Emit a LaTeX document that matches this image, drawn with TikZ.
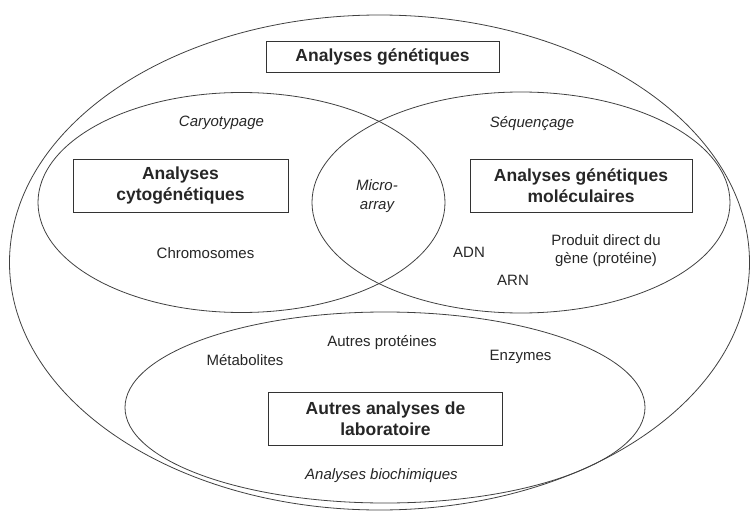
\documentclass[tikz,border=0pt]{standalone}
\usepackage{fontspec}
\setmainfont{Liberation Sans}
\usepackage{xcolor}
\usepackage{tikz}

\begin{document}
\begin{tikzpicture}[x=1pt,y=-1pt,line width=0.8pt,
  every node/.style={text=black!85,font=\fontsize{15}{18}\selectfont},
  areabox/.style={draw=black!80,align=center,inner sep=0pt,
    font=\fontsize{17.5}{20.5}\selectfont\bfseries},
  technique/.style={font=\fontsize{15}{19}\selectfont\itshape,align=center},
  target/.style={align=center}]
\useasboundingbox (0,0) rectangle (750,511);
% the sets
\draw[black!75] (379.5,262.5) ellipse [x radius=370pt,y radius=247.5pt];
\draw[black!75] (241.5,202.5) ellipse [x radius=203.5pt,y radius=110pt];
\draw[black!75] (521,202.5) ellipse [x radius=209pt,y radius=110.5pt];
\draw[black!75] (385,407.5) ellipse [x radius=260pt,y radius=95.5pt];
% headings
\node[areabox,minimum width=233pt,minimum height=31pt] (gen) at (382.5,56.5) {Analyses génétiques};
\node[areabox,minimum width=215pt,minimum height=53pt] (cyto) at (180.5,185.5) {Analyses\\cytogénétiques};
\node[areabox,minimum width=222pt,minimum height=53pt] (mol) at (581,185.5) {Analyses génétiques\\moléculaires};
\node[areabox,minimum width=234pt,minimum height=53pt] (labo) at (385.5,418.5) {Autres analyses de\\laboratoire};
% techniques
\node[technique] (caryo) at (221.5,123) {Caryotypage};
\node[technique] (sequ) at (532,124) {Séquençage};
\node[technique] (micro) at (377,196.5) {Micro-\\array};
\node[technique] (biochim) at (381.5,476) {Analyses biochimiques};
% what is analysed
\node[target] (chromo) at (205.5,253) {Chromosomes};
\node[target] (adn) at (469,252) {ADN};
\node[target] (arn) at (513,280) {ARN};
\node[target] (produit) at (606,251) {Produit direct du\\gène (protéine)};
\node[target] (metab) at (245,360) {Métabolites};
\node[target] (autprot) at (382,343) {Autres protéines};
\node[target] (enzy) at (520.5,357) {Enzymes};
\end{tikzpicture}
\end{document}
